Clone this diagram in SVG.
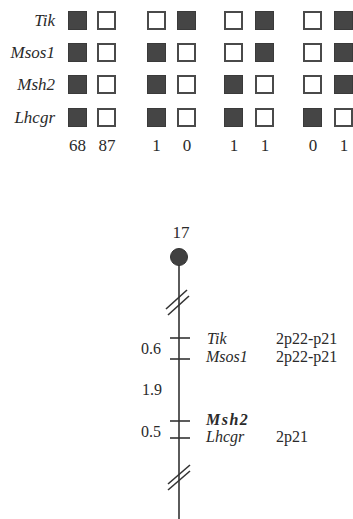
<svg xmlns="http://www.w3.org/2000/svg" width="353" height="519" viewBox="0 0 353 519">
<style>
.f{fill:#454545;stroke:#3a3a3a;stroke-width:1}
.o{fill:#fff;stroke:#4a4a4a;stroke-width:2}
.g{font-family:"Liberation Serif",serif;font-style:italic;font-size:17px;fill:#2a2a2a;text-anchor:end}
.n{font-family:"Liberation Serif",serif;font-size:17px;fill:#2a2a2a;text-anchor:middle}
.c{font-family:"Liberation Serif",serif;font-size:16px;fill:#2a2a2a}
.ci{font-family:"Liberation Serif",serif;font-style:italic;font-size:16px;fill:#2a2a2a}
.ln{stroke:#333;stroke-width:1.6;fill:none}
</style>
<g id="grid">
<g id="labels">
<text class="g" x="55" y="26">Tik</text>
<text class="g" x="55" y="58">Msos1</text>
<text class="g" x="55" y="90">Msh2</text>
<text class="g" x="55" y="123">Lhcgr</text>
</g>
<g id="col1">
<rect class="f" x="68.5" y="11.5" width="18" height="18"/>
<rect class="f" x="68.5" y="43.5" width="18" height="18"/>
<rect class="f" x="68.5" y="75.5" width="18" height="18"/>
<rect class="f" x="68.5" y="108.5" width="18" height="18"/>
<text class="n" x="77.5" y="151">68</text>
</g>
<g id="col2">
<rect class="o" x="98" y="12" width="17" height="17"/>
<rect class="o" x="98" y="44" width="17" height="17"/>
<rect class="o" x="98" y="76" width="17" height="17"/>
<rect class="o" x="98" y="109" width="17" height="17"/>
<text class="n" x="107" y="151">87</text>
</g>
<g id="col3">
<rect class="o" x="148" y="12" width="17" height="17"/>
<rect class="f" x="147.5" y="43.5" width="18" height="18"/>
<rect class="f" x="147.5" y="75.5" width="18" height="18"/>
<rect class="f" x="147.5" y="108.5" width="18" height="18"/>
<text class="n" x="156.5" y="151">1</text>
</g>
<g id="col4">
<rect class="f" x="177.5" y="11.5" width="18" height="18"/>
<rect class="o" x="178" y="44" width="17" height="17"/>
<rect class="o" x="178" y="76" width="17" height="17"/>
<rect class="o" x="178" y="109" width="17" height="17"/>
<text class="n" x="187" y="151">0</text>
</g>
<g id="col5">
<rect class="o" x="225" y="12" width="17" height="17"/>
<rect class="o" x="225" y="44" width="17" height="17"/>
<rect class="f" x="224.5" y="75.5" width="18" height="18"/>
<rect class="f" x="224.5" y="108.5" width="18" height="18"/>
<text class="n" x="234" y="151">1</text>
</g>
<g id="col6">
<rect class="f" x="255.5" y="11.5" width="18" height="18"/>
<rect class="f" x="255.5" y="43.5" width="18" height="18"/>
<rect class="o" x="256" y="76" width="17" height="17"/>
<rect class="o" x="256" y="109" width="17" height="17"/>
<text class="n" x="265" y="151">1</text>
</g>
<g id="col7">
<rect class="o" x="304" y="12" width="17" height="17"/>
<rect class="o" x="304" y="44" width="17" height="17"/>
<rect class="o" x="304" y="76" width="17" height="17"/>
<rect class="f" x="303.5" y="108.5" width="18" height="18"/>
<text class="n" x="313" y="151">0</text>
</g>
<g id="col8">
<rect class="f" x="334.5" y="11.5" width="18" height="18"/>
<rect class="f" x="334.5" y="43.5" width="18" height="18"/>
<rect class="f" x="334.5" y="75.5" width="18" height="18"/>
<rect class="o" x="335" y="109" width="17" height="17"/>
<text class="n" x="344" y="151">1</text>
</g>
</g>
<g id="connectors">
<line class="ln" x1="179" y1="257" x2="179" y2="519"/>
<line class="ln" x1="166" y1="309" x2="187" y2="290"/>
<line class="ln" x1="168" y1="315" x2="189" y2="296"/>
<line class="ln" x1="168" y1="484" x2="190" y2="465"/>
<line class="ln" x1="168" y1="490" x2="190" y2="471"/>
</g>
<g id="chromosome">
<text class="n" x="181" y="238">17</text>
<circle cx="179" cy="257" r="8.5" fill="#404040" stroke="#333" stroke-width="1"/>
</g>
<g id="tick-tik">
<line class="ln" x1="170" y1="338" x2="190" y2="338"/>
<text class="ci" x="207" y="344">Tik</text>
<text class="c" x="276" y="344">2p22-p21</text>
</g>
<g id="tick-msos1">
<line class="ln" x1="170" y1="359" x2="190" y2="359"/>
<text class="ci" x="206" y="362">Msos1</text>
<text class="c" x="276" y="362">2p22-p21</text>
</g>
<g id="tick-msh2">
<line class="ln" x1="170" y1="421" x2="190" y2="421"/>
<text class="ci" x="206" y="425" font-weight="bold" letter-spacing="1.5">Msh2</text>
</g>
<g id="tick-lhcgr">
<line class="ln" x1="170" y1="438" x2="190" y2="438"/>
<text class="ci" x="206" y="442">Lhcgr</text>
<text class="c" x="276" y="442">2p21</text>
</g>
<g id="distances">
<text class="c" x="141" y="354">0.6</text>
<text class="c" x="142" y="395">1.9</text>
<text class="c" x="141" y="437">0.5</text>
</g>
</svg>
